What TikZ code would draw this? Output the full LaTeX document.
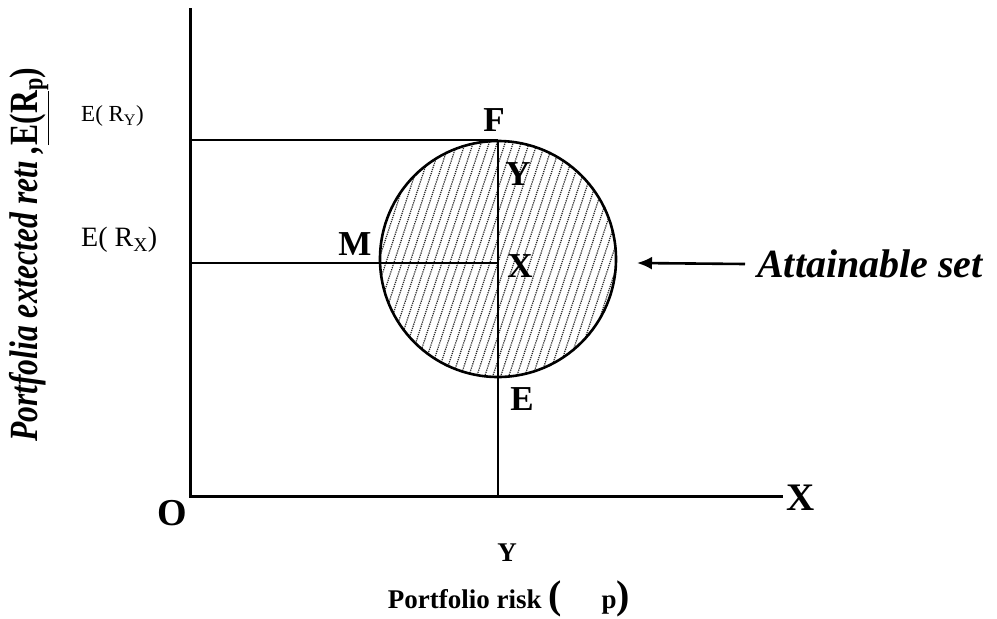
\documentclass[tikz,border=0pt]{standalone}
\usepackage{fontspec}
\setmainfont{Liberation Serif}
\usetikzlibrary{arrows.meta}
\newcommand{\fsz}[1]{\fontsize{#1}{#1}\selectfont}
\begin{document}
\begin{tikzpicture}[x=1pt, y=-1pt, >=latex,
      axisline/.style={line width=3pt},
      guideline/.style={line width=2.4pt},
      hatchline/.style={densely dotted, line width=1.2pt, black!85},
      ptlabel/.style={font=\bfseries\fsz{35}, inner sep=0pt},
      levlabel/.style={inner sep=0pt, anchor=west}]
    \useasboundingbox (0,0) rectangle (997,619);
    % axes
    \coordinate (O) at (190,496);
    \coordinate (ytop) at (190,8);
    \coordinate (xend) at (783,496);
    \coordinate (yF) at (190,140);
    \coordinate (yX) at (190,263);
    \coordinate (xE) at (498,496);
    \draw[axisline] (ytop) -- (O) -- (xend);
    % attainable set
    \begin{scope}
      \clip (498,259) circle (118);
      \foreach \i in {330,338,...,680}
        \draw[hatchline] ({\i-45},400) -- ({\i+45},125);
    \end{scope}
    \node[circle, draw, line width=2.6pt, minimum size=236pt, inner sep=0pt, outer sep=0pt] (set) at (498,259) {};
    \coordinate (F) at (498,140);
    \coordinate (X) at (498,263);
    \draw[guideline] (yF) -- (F);
    \draw[guideline] (yX) -- (X);
    \draw[guideline] (F) -- (xE);
    % labels
    \node[ptlabel] (lF) at (494,120) {F};
    \node[ptlabel] (lY) at (518,174) {Y};
    \node[ptlabel] (lM) at (355,244) {M};
    \node[ptlabel] (lX) at (520,266) {X};
    \node[ptlabel] (lE) at (522,399) {E};
    \node[ptlabel, font=\bfseries\fsz{38}] (lO) at (172,513) {O};
    \node[ptlabel, font=\bfseries\fsz{39}] (laxX) at (801,498) {X};
    \node[ptlabel, font=\bfseries\fsz{27}] (laxY) at (507,553) {Y};
    \node[levlabel, font=\fsz{23}] (ERY) at (81,116) {E( R\textsubscript{Y})};
    \node[levlabel, font=\fsz{28}] (ERX) at (81,240) {E( R\textsubscript{X})};
    \node[font=\bfseries\itshape\fsz{40}, inner sep=0pt, anchor=west] (att) at (757,264) {Attainable set};
    \draw[-{Latex[length=15pt,width=13pt]}, line width=2.6pt] ([xshift=-12pt]att.west) -- (637,263);
    \node[font=\bfseries\fsz{27}, inner sep=0pt] (risk) at (509,599) {Portfolio risk \fsz{40}(\hspace{1em}\fsz{27}p\fsz{40})};
    \node[rotate=90, font=\bfseries\itshape\fsz{40}, inner sep=0pt, anchor=west] (ret) at (29,442)
      {\scalebox{0.79}[1]{Portfolia extected ret\i\ ,\upshape\underline{E(R}\textsubscript{p})}};
  \end{tikzpicture}
\end{document}
